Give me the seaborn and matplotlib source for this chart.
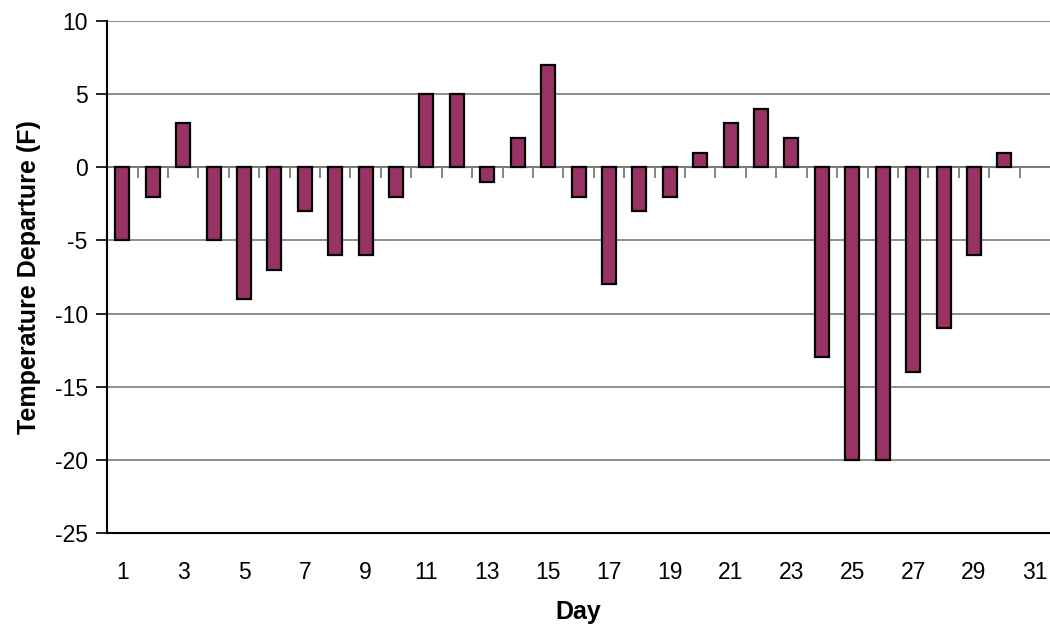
import matplotlib
matplotlib.use("Agg")
import matplotlib.pyplot as plt
import seaborn as sns
import numpy as np
import pandas as pd

days = [str(d) for d in range(1, 32)]
departure = [-5, -2, 3, -5, -9, -7, -3, -6, -6, -2,
             5, 5, -1, 2, 7, -2, -8, -3, -2, 1,
             3, 4, 2, -13, -20, -20, -14, -11, -6, 1, np.nan]
yticks = [10, 5, 0, -5, -10, -15, -20, -25]

sns.set_theme(style="white")
plt.rcParams["font.family"] = ["Liberation Sans", "DejaVu Sans"]
plt.rcParams["text.color"] = "black"
plt.rcParams["axes.labelcolor"] = "black"
plt.rcParams["xtick.color"] = "black"
plt.rcParams["ytick.color"] = "black"

df = pd.DataFrame({"Day": days, "Departure": departure})

fig = plt.figure(figsize=(10.5, 6.3), dpi=100)
ax = fig.add_axes([0.102, 0.154, 0.898, 0.8125])

sns.barplot(data=df, x="Day", y="Departure", order=days, color="#993366",
            saturation=1, width=0.46, edgecolor="black", linewidth=1.6, ax=ax, zorder=3)

ax.set_ylim(-25, 10)
ax.set_xlim(-0.5, len(days) - 0.5)
ax.set_yticks(yticks)
ax.set_yticklabels([str(v) for v in yticks], fontsize=16.5)
ax.yaxis.grid(True, color="#7a7a7a", linewidth=1.2, zorder=0)
ax.xaxis.grid(False)
ax.set_axisbelow(True)

idx = np.arange(len(days))
ax.set_xticks(idx[::2])
ax.set_xticklabels(days[::2], fontsize=16.5)
ax.tick_params(axis="x", length=0, pad=20, colors="black")
ax.tick_params(axis="y", direction="out", length=8, width=1.2, color="black", pad=6, left=True)

for s in ["top", "right"]:
    ax.spines[s].set_visible(False)
ax.spines["left"].set_color("black")
ax.spines["left"].set_linewidth(1.5)
ax.spines["bottom"].set_color("black")
ax.spines["bottom"].set_linewidth(1.5)

# zero line with category boundary ticks
sec = ax.secondary_xaxis(0, transform=ax.transData)
sec.set_xticks(idx[1:] - 0.5)
sec.set_xticklabels([])
sec.tick_params(axis="x", direction="out", length=8, width=1.2, color="#707070")
sec.spines["bottom"].set_color("#808080")
sec.spines["bottom"].set_linewidth(1.5)

ax.set_xlabel("Day", fontsize=18, fontweight="bold", labelpad=12)
ax.set_ylabel("Temperature Departure (F)", fontsize=18, fontweight="bold", labelpad=10)

fig.savefig("out.png", dpi=100, facecolor="white")
